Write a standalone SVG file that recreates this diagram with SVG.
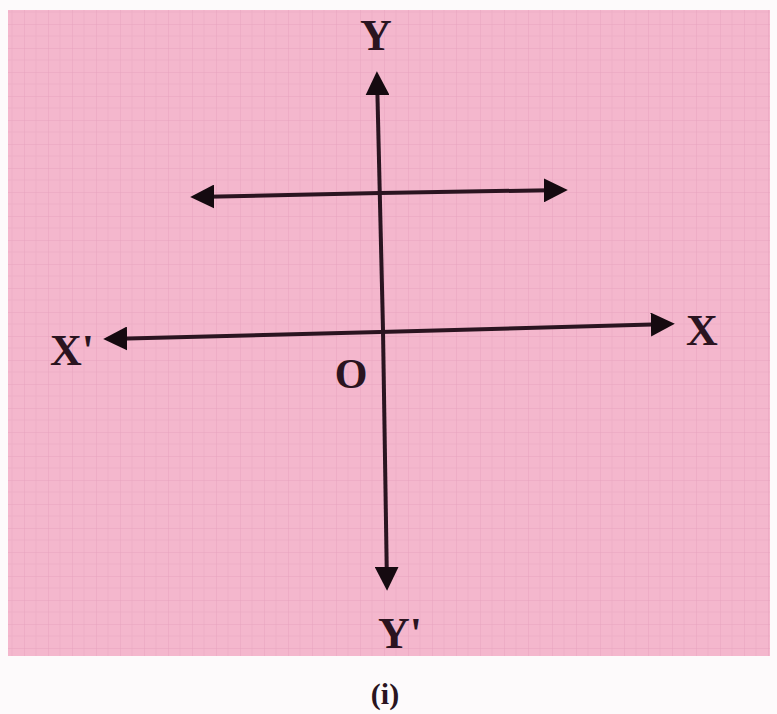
<svg xmlns="http://www.w3.org/2000/svg" width="777" height="714" viewBox="0 0 777 714">
<style>
.ax{stroke:#2a1420;stroke-width:4;fill:none}
.lbl{font-family:"Liberation Serif","DejaVu Serif",serif;font-weight:bold;fill:#2a1420}
</style>
<defs>
<pattern id="grid" width="24" height="24" patternUnits="userSpaceOnUse">
<path d="M0 0H24M0 0V24" stroke="#d98fae" stroke-width="1" opacity="0.5"/>
<path d="M12 0V24M0 12H24" stroke="#e6a3bd" stroke-width="1" opacity="0.4"/>
</pattern>
<marker id="ah" viewBox="0 0 10 10" refX="8" refY="5" markerWidth="6" markerHeight="6" orient="auto" markerUnits="strokeWidth">
<path d="M0 0L10 5L0 10Z" fill="#150a10"/>
</marker>
</defs>
<rect width="777" height="714" fill="#fdfafb"/>
<g id="paper">
<rect x="8" y="10" width="762" height="646" fill="#f4b7cd"/>
<rect x="8" y="10" width="762" height="646" fill="url(#grid)"/>
</g>
<g id="connectors">
<line class="ax" x1="383" y1="330" x2="377" y2="76" marker-end="url(#ah)"/>
<line class="ax" x1="383" y1="330" x2="387" y2="586" marker-end="url(#ah)"/>
<line class="ax" x1="380" y1="332" x2="108" y2="339" marker-end="url(#ah)"/>
<line class="ax" x1="380" y1="332" x2="670" y2="324" marker-end="url(#ah)"/>
<line class="ax" x1="380" y1="193" x2="195" y2="197" marker-end="url(#ah)"/>
<line class="ax" x1="380" y1="193" x2="563" y2="190" marker-end="url(#ah)"/>
</g>
<g id="label-Y"><text class="lbl" x="376" y="50" font-size="44" text-anchor="middle">Y</text></g>
<g id="label-Xp"><text class="lbl" x="72" y="365" font-size="44" text-anchor="middle">X'</text></g>
<g id="label-X"><text class="lbl" x="702" y="345" font-size="44" text-anchor="middle">X</text></g>
<g id="label-O"><text class="lbl" x="351" y="388" font-size="42" text-anchor="middle">O</text></g>
<g id="label-Yp"><text class="lbl" x="400" y="648" font-size="44" text-anchor="middle">Y'</text></g>
<g id="label-i"><text class="lbl" x="385" y="704" font-size="30" text-anchor="middle">(i)</text></g>
</svg>
